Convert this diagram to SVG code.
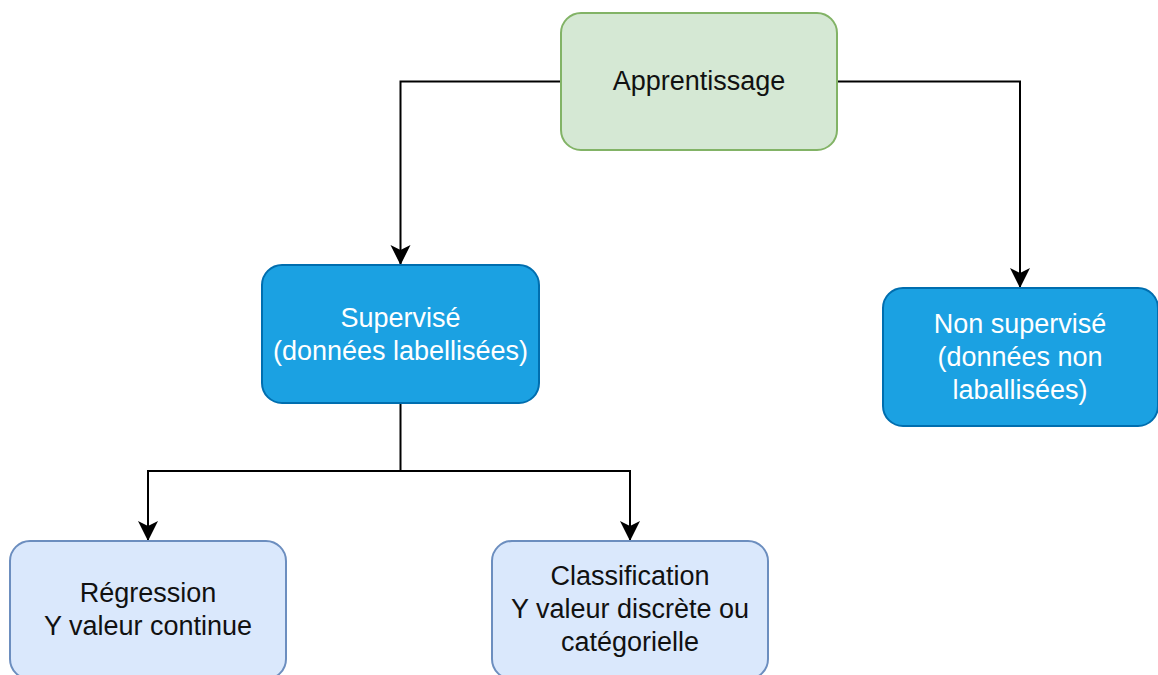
<svg xmlns="http://www.w3.org/2000/svg" width="1158" height="675" viewBox="0 0 1158 675">
  <defs>
    <style>
      .node rect { stroke-width: 2; }
      .green rect { fill: #d5e8d4; stroke: #82b366; }
      .dark rect { fill: #1ba1e2; stroke: #006eaf; }
      .light rect { fill: #dae8fc; stroke: #6c8ebf; }
      text { font-family: "Liberation Sans", Arial, sans-serif; font-size: 27px; text-anchor: middle; }
      .green text, .light text { fill: #111111; }
      .dark text { fill: #ffffff; }
      .edge { fill: none; stroke: #000000; stroke-width: 2; marker-end: url(#arrow); }
    </style>
    <marker id="arrow" markerUnits="userSpaceOnUse" markerWidth="22" markerHeight="22" refX="20" refY="10" orient="auto" overflow="visible">
      <path d="M20,10 L0,0 L5,10 L0,20 Z" fill="#000000"/>
    </marker>
  </defs>
  <rect width="1158" height="675" fill="#ffffff"/>

  <g id="connectors">
    <path class="edge" d="M561,81.5 H400.5 V265"/>
    <path class="edge" d="M837,81.5 H1020 V288"/>
    <path class="edge" d="M400.5,403 V471 H148 V541"/>
    <path class="edge" d="M400.5,471 H630 V541"/>
  </g>

  <g id="apprentissage" class="node green">
    <rect x="561" y="13" width="276" height="137" rx="20"/>
    <text x="699" y="90">Apprentissage</text>
  </g>

  <g id="supervise" class="node dark">
    <rect x="262" y="265" width="277" height="138" rx="20"/>
    <text x="400.5" y="326.5">Supervisé</text>
    <text x="400.5" y="359.5">(données labellisées)</text>
  </g>

  <g id="non-supervise" class="node dark">
    <rect x="883" y="288" width="275" height="138" rx="20"/>
    <text x="1020" y="333">Non supervisé</text>
    <text x="1020" y="366">(données non</text>
    <text x="1020" y="399">laballisées)</text>
  </g>

  <g id="regression" class="node light">
    <rect x="10" y="541" width="276" height="138" rx="20"/>
    <text x="148" y="602">Régression</text>
    <text x="148" y="635">Y valeur continue</text>
  </g>

  <g id="classification" class="node light">
    <rect x="492" y="541" width="276" height="138" rx="20"/>
    <text x="630" y="585">Classification</text>
    <text x="630" y="618">Y valeur discrète ou</text>
    <text x="630" y="651">catégorielle</text>
  </g>
</svg>
